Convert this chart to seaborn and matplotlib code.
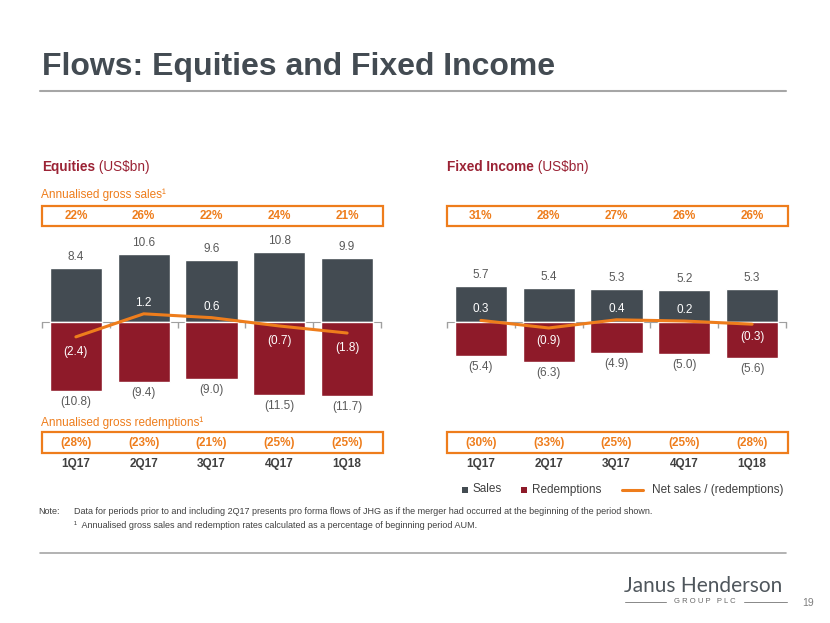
import numpy as np
import matplotlib.pyplot as plt
import seaborn as sns
from matplotlib import font_manager
from matplotlib.patches import Rectangle
from matplotlib.lines import Line2D
from matplotlib.transforms import blended_transform_factory

# --- Data ---
quarters = ['1Q17', '2Q17', '3Q17', '4Q17', '1Q18']

eq_sales = [8.4, 10.6, 9.6, 10.8, 9.9]
eq_redemptions = [-10.8, -9.4, -9.0, -11.5, -11.7]
eq_net = [-2.4, 1.2, 0.6, -0.7, -1.8]
eq_sales_rate = ['22%', '26%', '22%', '24%', '21%']
eq_redemption_rate = ['(28%)', '(23%)', '(21%)', '(25%)', '(25%)']

fi_sales = [5.7, 5.4, 5.3, 5.2, 5.3]
fi_redemptions = [-5.4, -6.3, -4.9, -5.0, -5.6]
fi_net = [0.3, -0.9, 0.4, 0.2, -0.3]
fi_sales_rate = ['31%', '28%', '27%', '26%', '26%']
fi_redemption_rate = ['(30%)', '(33%)', '(25%)', '(25%)', '(28%)']

# --- Style ---
GREY_BAR = '#434B52'
RED_BAR = '#8E1A29'
ORANGE = '#EE7D1C'
HEAD_RED = '#9B2335'
TEXT = '#595959'
DARK = '#404040'

sns.set_style('white')
plt.rcParams['font.family'] = ['Liberation Sans', 'DejaVu Sans']

# the footnote uses a condensed face when one is available
names = {f.name for f in font_manager.fontManager.ttflist}
if 'Liberation Sans Narrow' in names:
    note_font, note_size = ['Liberation Sans Narrow', 'DejaVu Sans'], 8.0
else:
    note_font, note_size = ['Liberation Sans', 'DejaVu Sans'], 6.5

W, H = 830, 623
fig = plt.figure(figsize=(W / 100, H / 100), dpi=100)
fig.patch.set_facecolor('white')


def fx(px):
    return px / W


def fy(py):
    return 1 - py / H


def fmt(v):
    return f'{v:.1f}' if v >= 0 else f'({-v:.1f})'


def panel(left, right, zero, scale, sales, redemptions, net, sales_rate, red_rate, net_offsets):
    ymax, ymin = 12, -13
    top = zero - ymax * scale
    bottom = zero - ymin * scale
    ax = fig.add_axes([fx(left), fy(bottom), fx(right) - fx(left), (bottom - top) / H])
    ax.set_facecolor('none')

    sns.barplot(x=quarters, y=sales, color=GREY_BAR, saturation=1, width=0.77, ax=ax)
    sns.barplot(x=quarters, y=redemptions, color=RED_BAR, saturation=1, width=0.77, ax=ax)
    pos = np.arange(len(quarters))
    sns.lineplot(x=pos, y=net, color=ORANGE, linewidth=2.2, ax=ax, zorder=3)

    ax.set_xlim(-0.5, len(quarters) - 0.5)
    ax.set_ylim(ymin, ymax)
    ax.set_yticks([])
    ax.set_xticks(np.arange(-0.5, len(quarters), 1))
    ax.set_xticklabels([])
    ax.tick_params(axis='x', length=4, width=1, color='#A0A0A0', direction='out', bottom=True)
    ax.set_xlabel('')
    ax.set_ylabel('')
    for s in ['top', 'left', 'right']:
        ax.spines[s].set_visible(False)
    ax.spines['bottom'].set_position(('data', 0))
    ax.spines['bottom'].set_color('#A0A0A0')
    ax.spines['bottom'].set_zorder(0.5)

    for i in pos:
        ax.annotate(fmt(sales[i]), (i, sales[i]), xytext=(0, 5), textcoords='offset pixels',
                    ha='center', va='bottom', fontsize=8.5, color=TEXT)
        ax.annotate(fmt(redemptions[i]), (i, redemptions[i]), xytext=(0, -5), textcoords='offset pixels',
                    ha='center', va='top', fontsize=8.5, color=TEXT)
        off = net_offsets[0] if net[i] >= 0 else net_offsets[1]
        ax.annotate(fmt(net[i]), (i, net[i]), xytext=(0, off), textcoords='offset pixels',
                    ha='center', va='center', fontsize=8.5, color='white', zorder=4)

    # rate boxes and quarter labels sit at fixed heights on the slide
    trans = blended_transform_factory(ax.transData, fig.transFigure)
    for i in pos:
        ax.text(i, fy(216), sales_rate[i], transform=trans, ha='center', va='center',
                fontsize=8.5, fontweight='bold', color=ORANGE, clip_on=False)
        ax.text(i, fy(443), red_rate[i], transform=trans, ha='center', va='center',
                fontsize=8.5, fontweight='bold', color=ORANGE, clip_on=False)
        ax.text(i, fy(463.5), quarters[i], transform=trans, ha='center', va='center',
                fontsize=8.5, fontweight='bold', color=DARK, clip_on=False)

    for y0, y1 in [(205.7, 226), (432.5, 453.3)]:
        fig.add_artist(Rectangle((fx(left), fy(y1)), fx(right + 2) - fx(left), (y1 - y0) / H,
                                 transform=fig.transFigure, fill=False, edgecolor=ORANGE, lw=1.6))
    return ax


ax_eq = panel(42, 381, 321.5, 6.4, eq_sales, eq_redemptions, eq_net,
              eq_sales_rate, eq_redemption_rate, (11, -15))
ax_fi = panel(447, 786, 322.3, 6.3, fi_sales, fi_redemptions, fi_net,
              fi_sales_rate, fi_redemption_rate, (11, -13))

# --- Titles and headings ---
fig.text(fx(42), fy(74.6), 'Flows: Equities and Fixed Income', fontsize=23,
         fontweight='bold', color='#434B52', va='baseline')
fig.add_artist(Line2D([fx(40), fx(786)], [fy(91), fy(91)], color='#A6A6A6', lw=1.5))

for x, bold in [(42, 'Equities'), (447, 'Fixed Income')]:
    t = fig.text(fx(x), fy(171), bold, fontsize=9.8, fontweight='bold', color=HEAD_RED, va='baseline')
    ax_eq.annotate(' (US$bn)', xy=(1, 0), xycoords=t, ha='left', va='bottom',
                   fontsize=9.8, color=HEAD_RED, annotation_clip=False)

fig.text(fx(41), fy(195), 'Annualised gross sales¹', fontsize=8.5, color=ORANGE, va='center')
fig.text(fx(41), fy(423), 'Annualised gross redemptions¹', fontsize=8.5, color=ORANGE, va='center')

# --- Legend ---
ly = 489.5
fig.add_artist(Rectangle((fx(462), fy(ly + 3)), 6 / W, 6 / H, transform=fig.transFigure,
                         color=GREY_BAR, lw=0))
fig.text(fx(472.5), fy(ly), 'Sales', fontsize=8.5, color=DARK, va='center')
fig.add_artist(Rectangle((fx(521), fy(ly + 3)), 6 / W, 6 / H, transform=fig.transFigure,
                         color=RED_BAR, lw=0))
fig.text(fx(532), fy(ly), 'Redemptions', fontsize=8.5, color=DARK, va='center')
fig.add_artist(Line2D([fx(622), fx(643)], [fy(ly), fy(ly)], color=ORANGE, lw=2.2))
fig.text(fx(651.5), fy(ly), 'Net sales / (redemptions)', fontsize=8.5, color=DARK, va='center')

# --- Notes ---
fig.text(fx(38), fy(511), 'Note:', fontsize=note_size, family=note_font, color=DARK, va='center')
fig.text(fx(74), fy(511), 'Data for periods prior to and including 2Q17 presents pro forma flows of JHG '
         'as if the merger had occurred at the beginning of the period shown.',
         fontsize=note_size, family=note_font, color=DARK, va='center')
fig.text(fx(74), fy(525), '¹  Annualised gross sales and redemption rates calculated as a percentage '
         'of beginning period AUM.', fontsize=note_size, family=note_font, color=DARK, va='center')
fig.add_artist(Line2D([fx(40), fx(786)], [fy(553), fy(553)], color='#A6A6A6', lw=1.2))

# --- Logo and page number ---
fig.text(fx(624), fy(591.7), 'Janus Henderson', fontsize=15, color='#4F565C', va='baseline',
         family=['Lato', 'Liberation Sans'])
fig.text(fx(705), fy(601.7), 'G R O U P   P L C', fontsize=5.5, color='#666666',
         ha='center', va='center')
fig.add_artist(Line2D([fx(625), fx(666)], [fy(601.7), fy(601.7)], color='#888888', lw=0.7))
fig.add_artist(Line2D([fx(744), fx(787)], [fy(601.7), fy(601.7)], color='#888888', lw=0.7))
fig.text(fx(808), fy(603), '19', fontsize=7.5, color='#7F7F7F', ha='center', va='center')

fig.savefig('out.png', dpi=100)
